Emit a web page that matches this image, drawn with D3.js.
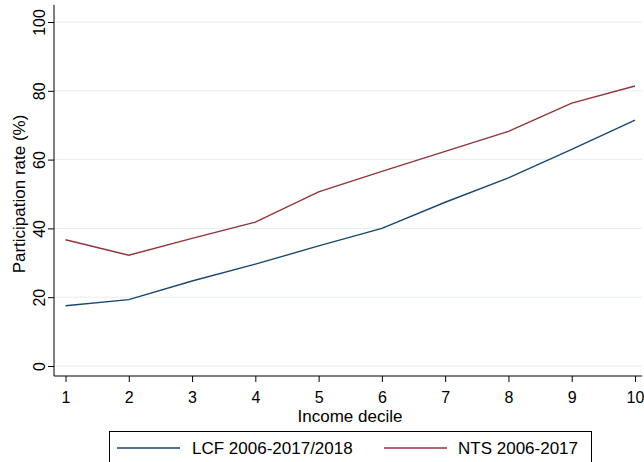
<!DOCTYPE html>
<html>
<head>
<meta charset="utf-8">
<script src="https://cdn.jsdelivr.net/npm/d3@7"></script>
<style>
  html, body { margin: 0; padding: 0; background: #fff; }
  svg { display: block; font-family: "Liberation Sans", Arial, sans-serif; }
</style>
</head>
<body>
<svg id="chart" width="644" height="462"></svg>
<script>
// Income deciles on the x axis
const deciles = [1, 2, 3, 4, 5, 6, 7, 8, 9, 10];
// Participation rate (%) by decile
const lcfValues = [17.5, 19.3, 24.7, 29.6, 34.9, 40.0, 47.6, 54.7, 63.0, 71.5];
const ntsValues = [36.7, 32.2, 37.1, 41.8, 50.6, 56.6, 62.4, 68.2, 76.4, 81.4];
const yTicks = [0, 20, 40, 60, 80, 100];
const seriesNames = ["LCF 2006-2017/2018", "NTS 2006-2017"];
const seriesColors = ["#1a476f", "#90353b"];

const svg = d3.select("#chart");
const font = "'Liberation Sans', Arial, sans-serif";

const x = d3.scaleLinear().domain([1, 10]).range([65.5, 635]);
const y = d3.scaleLinear().domain([0, 100]).range([366, 22]);
const plotLeft = 54, plotRight = 642, plotBottom = 376;

// gridlines
svg.append("g").selectAll("line").data(yTicks).join("line")
  .attr("x1", plotLeft).attr("x2", plotRight)
  .attr("y1", d => y(d)).attr("y2", d => y(d))
  .attr("stroke", "#e6eef2").attr("stroke-width", 1);

// y axis
const yAxis = svg.append("g").attr("transform", `translate(${plotLeft},0)`)
  .call(d3.axisLeft(y).tickValues(yTicks).tickSize(6).tickPadding(4));
yAxis.attr("font-family", font).attr("font-size", 16);
yAxis.select(".domain").attr("d", `M0,${y(105)}V${plotBottom}`).attr("stroke", "#000");
yAxis.selectAll(".tick line").attr("stroke", "#000");
yAxis.selectAll(".tick text")
  .attr("font-size", 16).attr("fill", "#000")
  .attr("transform", "rotate(-90)")
  .attr("x", 0).attr("y", -9).attr("dy", 0)
  .attr("text-anchor", "middle");

// x axis
const xAxis = svg.append("g").attr("transform", `translate(0,${plotBottom})`)
  .call(d3.axisBottom(x).tickValues(deciles).tickFormat(d3.format("d")).tickSize(6).tickPadding(4));
xAxis.attr("font-family", font).attr("font-size", 16);
xAxis.select(".domain").attr("d", `M${plotLeft},0H${plotRight}`).attr("stroke", "#000");
xAxis.selectAll(".tick line").attr("stroke", "#000");
xAxis.selectAll(".tick text")
  .attr("font-size", 16).attr("fill", "#000")
  .attr("y", 27).attr("dy", 0);

// axis titles
svg.append("text")
  .attr("x", 350).attr("y", 422)
  .attr("text-anchor", "middle").attr("font-size", 17).attr("fill", "#000")
  .text("Income decile");
svg.append("text")
  .attr("transform", `translate(25,${(y(0) + y(100)) / 2}) rotate(-90)`)
  .attr("text-anchor", "middle").attr("font-size", 17).attr("fill", "#000")
  .text("Participation rate (%)");

// series lines
const line = d3.line().x((d, i) => x(deciles[i])).y(d => y(d));
[lcfValues, ntsValues].forEach((vals, i) => {
  svg.append("path").datum(vals)
    .attr("d", line)
    .attr("fill", "none")
    .attr("stroke", seriesColors[i])
    .attr("stroke-width", 1.4);
});

// legend
const legend = svg.append("g");
legend.append("rect")
  .attr("x", 109.5).attr("y", 431.5).attr("width", 482).attr("height", 40)
  .attr("fill", "#fff").attr("stroke", "#000").attr("stroke-width", 1);
const legendItems = [{x0: 117, tx: 192}, {x0: 384, tx: 458}];
legendItems.forEach((it, i) => {
  legend.append("line")
    .attr("x1", it.x0).attr("x2", it.x0 + 63)
    .attr("y1", 448).attr("y2", 448)
    .attr("stroke", seriesColors[i]).attr("stroke-width", 1.4);
  legend.append("text")
    .attr("x", it.tx).attr("y", 453.5)
    .attr("font-size", 17).attr("fill", "#000")
    .text(seriesNames[i]);
});
</script>
</body>
</html>
